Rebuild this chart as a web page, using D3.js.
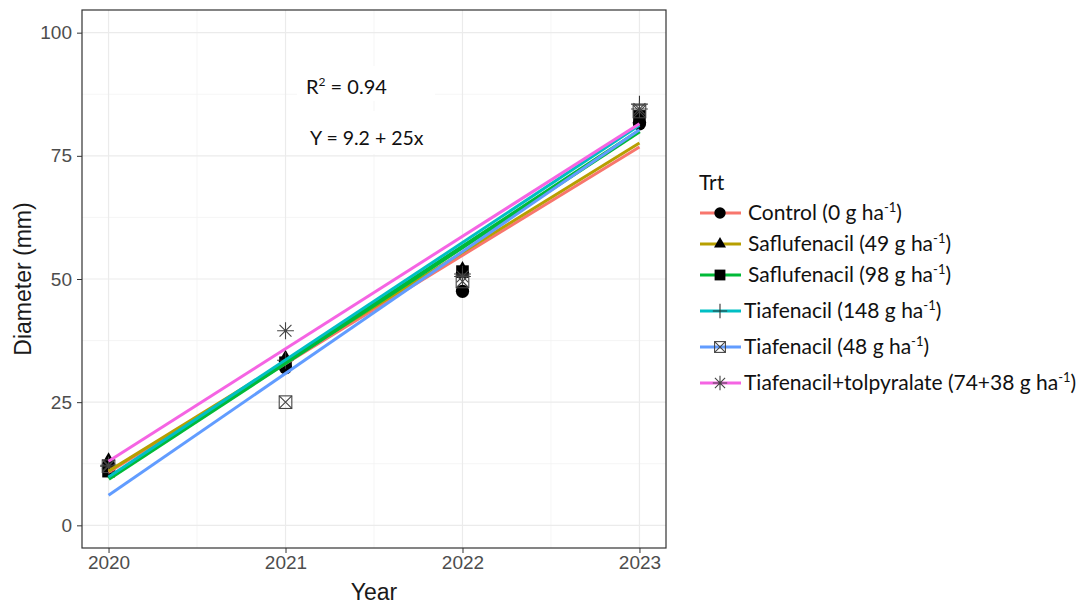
<!DOCTYPE html>
<meta charset="utf-8">
<style>
    body { margin: 0; background: #fff; }
    .axis text { font: 19px "Liberation Sans", Arial, sans-serif; fill: #4d4d4d; }
    .axis line { stroke: #333; }
    .axis path { display: none; }
    .title { font: 23px "Liberation Sans", Arial, sans-serif; fill: #1a1a1a; }
    .note, .legend text { font-family: Lato, "Open Sans", sans-serif; fill: #111; }
</style>
<svg class="chart"></svg>
<script src="https://d3js.org/d3.v7.min.js"></script>
<script>

    // treatments, in legend order
    const treatments = [
        {name: "Control", dose: "0"},
        {name: "Saflufenacil", dose: "49"},
        {name: "Saflufenacil", dose: "98"},
        {name: "Tiafenacil", dose: "148"},
        {name: "Tiafenacil", dose: "48"},
        {name: "Tiafenacil+tolpyralate", dose: "74+38"}
    ];
    const colors = ["#F8766D", "#B79F00", "#00BA38", "#00BFC4", "#619CFF", "#F564E3"];
    const shapes = ["circle", "triangle", "square", "plus", "boxx", "asterisk"];

    const years = [2020, 2021, 2022, 2023];

    // observed means, one array per treatment (2020..2023)
    const control = [11.5, 32.0, 47.5, 81.5];
    const saf49 = [13.2, 34.0, 52.0, 82.5];
    const saf98 = [11.0, 33.0, 51.5, 83.0];
    const tia148 = [12.0, 33.5, 51.0, 85.5];
    const tia48 = [12.0, 25.0, 49.5, 84.0];
    const tiaTol = [12.2, 39.5, 50.5, 84.5];
    const observed = [control, saf49, saf98, tia148, tia48, tiaTol];

    // fitted line values at 2020 and 2023
    const fitStart = [10.8, 11.0, 9.5, 9.8, 6.1, 13.0];
    const fitEnd = [76.8, 77.6, 80.0, 81.2, 80.3, 81.5];

    const yTicks = [0, 25, 50, 75, 100];

    const svgW = 1090, svgH = 607;
    const panel = {left: 82, right: 666, top: 10, bottom: 548};

    const svg = d3.select(".chart")
        .attr("width", svgW)
        .attr("height", svgH);

    const x = d3.scaleLinear()
        .domain([2019.85, 2023.15])
        .range([panel.left, panel.right]);

    const y = d3.scaleLinear()
        .domain([-4.6, 104.6])
        .range([panel.bottom, panel.top]);

    // grid
    const grid = svg.append("g");
    const minorX = [2020.5, 2021.5, 2022.5];
    const minorY = [12.5, 37.5, 62.5, 87.5];
    grid.selectAll(".mx").data(minorX).join("line")
        .attr("x1", d => x(d)).attr("x2", d => x(d))
        .attr("y1", panel.top).attr("y2", panel.bottom)
        .attr("stroke", "#f2f2f2").attr("stroke-width", 0.8);
    grid.selectAll(".my").data(minorY).join("line")
        .attr("y1", d => y(d)).attr("y2", d => y(d))
        .attr("x1", panel.left).attr("x2", panel.right)
        .attr("stroke", "#f2f2f2").attr("stroke-width", 0.8);
    grid.selectAll(".gx").data(years).join("line")
        .attr("x1", d => x(d)).attr("x2", d => x(d))
        .attr("y1", panel.top).attr("y2", panel.bottom)
        .attr("stroke", "#ebebeb").attr("stroke-width", 1.2);
    grid.selectAll(".gy").data(yTicks).join("line")
        .attr("y1", d => y(d)).attr("y2", d => y(d))
        .attr("x1", panel.left).attr("x2", panel.right)
        .attr("stroke", "#ebebeb").attr("stroke-width", 1.2);

    // annotation boxes
    svg.append("rect").attr("x", 297).attr("y", 66).attr("width", 138).attr("height", 35).attr("fill", "#fff");
    svg.append("rect").attr("x", 301).attr("y", 111).attr("width", 144).attr("height", 43).attr("fill", "#fff");
    const r2 = svg.append("text").attr("class", "note").attr("x", 306).attr("y", 94).style("font-size", "20px");
    r2.append("tspan").text("R");
    r2.append("tspan").attr("dy", -8).style("font-size", "12px").text("2");
    r2.append("tspan").attr("dy", 8).text(" = 0.94");
    svg.append("text").attr("class", "note").attr("x", 310).attr("y", 145)
        .style("font-size", "19.5px").text("Y = 9.2 + 25x");

    // point symbols
    function drawShape(g, shape, cx, cy, s) {
        const k = s / 2;
        if (shape === "circle") {
            g.append("circle").attr("cx", cx).attr("cy", cy).attr("r", k * 0.95).attr("fill", "#000");
        } else if (shape === "triangle") {
            g.append("path").attr("d", `M${cx},${cy - k * 1.15}L${cx + k},${cy + k * 0.6}L${cx - k},${cy + k * 0.6}Z`).attr("fill", "#000");
        } else if (shape === "square") {
            g.append("rect").attr("x", cx - k * 0.9).attr("y", cy - k * 0.9).attr("width", k * 1.8).attr("height", k * 1.8).attr("fill", "#000");
        } else if (shape === "plus") {
            g.append("path").attr("d", `M${cx - k * 1.2},${cy}H${cx + k * 1.2}M${cx},${cy - k * 1.2}V${cy + k * 1.2}`)
                .attr("stroke", "#333").attr("stroke-width", 1.1).attr("fill", "none");
        } else if (shape === "boxx") {
            g.append("rect").attr("x", cx - k * 0.9).attr("y", cy - k * 0.9).attr("width", k * 1.8).attr("height", k * 1.8)
                .attr("stroke", "#444").attr("stroke-width", 1.1).attr("fill", "none");
            g.append("path").attr("d", `M${cx - k * 0.9},${cy - k * 0.9}L${cx + k * 0.9},${cy + k * 0.9}M${cx + k * 0.9},${cy - k * 0.9}L${cx - k * 0.9},${cy + k * 0.9}`)
                .attr("stroke", "#444").attr("stroke-width", 1.1);
        } else if (shape === "asterisk") {
            const a = k * 1.2, b = a * 0.707;
            g.append("path").attr("d", `M${cx - a},${cy}H${cx + a}M${cx},${cy - a}V${cy + a}M${cx - b},${cy - b}L${cx + b},${cy + b}M${cx + b},${cy - b}L${cx - b},${cy + b}`)
                .attr("stroke", "#444").attr("stroke-width", 1.1).attr("fill", "none");
        }
    }

    const pts = svg.append("g");
    observed.forEach((vals, i) => {
        vals.forEach((v, j) => drawShape(pts, shapes[i], x(years[j]), y(v), 14));
    });

    // fitted lines
    svg.append("g").selectAll("line").data(treatments).join("line")
        .attr("x1", x(years[0]))
        .attr("x2", x(years[years.length - 1]))
        .attr("y1", (d, i) => y(fitStart[i]))
        .attr("y2", (d, i) => y(fitEnd[i]))
        .attr("stroke", (d, i) => colors[i])
        .attr("stroke-width", (d, i) => i === 2 ? 4.5 : 3);

    // panel border
    svg.append("rect")
        .attr("x", panel.left).attr("y", panel.top)
        .attr("width", panel.right - panel.left).attr("height", panel.bottom - panel.top)
        .attr("fill", "none").attr("stroke", "#333").attr("stroke-width", 1.2);

    // axes
    svg.append("g").attr("class", "axis")
        .attr("transform", `translate(0,${panel.bottom})`)
        .call(d3.axisBottom(x).tickValues(years).tickFormat(d3.format("d")).tickSize(5).tickPadding(3));
    svg.append("g").attr("class", "axis")
        .attr("transform", `translate(${panel.left},0)`)
        .call(d3.axisLeft(y).tickValues(yTicks).tickSize(5).tickPadding(5));

    svg.append("text").attr("class", "title")
        .attr("x", 374).attr("y", 600)
        .attr("text-anchor", "middle").text("Year");
    svg.append("text").attr("class", "title")
        .attr("transform", `translate(31,${y(50)}) rotate(-90)`)
        .attr("text-anchor", "middle").text("Diameter (mm)");

    // legend
    const legend = svg.append("g").attr("class", "legend");
    legend.append("text").attr("x", 699).attr("y", 190).style("font-size", "21px").text("Trt");
    const rowY = [213, 244, 275, 311, 347, 383];
    const textX = [748, 748, 748, 744, 744, 744];
    treatments.forEach((t, i) => {
        const cy = rowY[i];
        legend.append("line").attr("x1", 700).attr("x2", 741).attr("y1", cy).attr("y2", cy)
            .attr("stroke", colors[i]).attr("stroke-width", 3);
        drawShape(legend, shapes[i], 720, cy, 12);
        const tx = legend.append("text").attr("x", textX[i]).attr("y", cy + 7).style("font-size", "21px");
        tx.append("tspan").text(`${t.name} (${t.dose} g ha`);
        tx.append("tspan").attr("dy", -8).style("font-size", "13px").text("-1");
        tx.append("tspan").attr("dy", 8).text(")");
    });

</script>
